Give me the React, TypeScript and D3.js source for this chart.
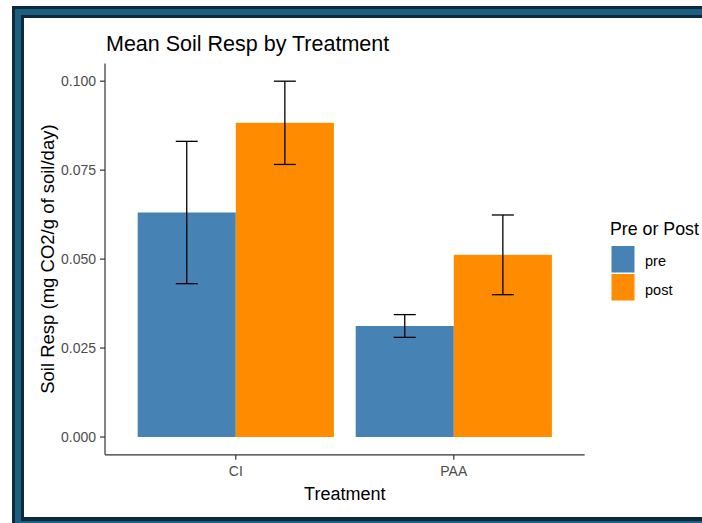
import React from "react";
import * as d3 from "d3";

const treatments = ["CI", "PAA"];
const phases = ["pre", "post"];
const preMeans = [0.0631, 0.0312];
const postMeans = [0.0883, 0.0512];
const preSE = [0.0200, 0.0032];
const postSE = [0.0117, 0.0112];
const yTicks = [0, 0.025, 0.05, 0.075, 0.1];
const colors = ["#4682B4", "#FF8C00"];

const W = 702;
const H = 523;
const plotL = 105;
const plotR = 584.6;
const plotT = 63.4;
const plotB = 454.8;
const FONT = "'Liberation Sans', Arial, sans-serif";

export default function App() {
  const rows = treatments.flatMap((t, i) => [
    { t, phase: "pre", mean: preMeans[i], se: preSE[i] },
    { t, phase: "post", mean: postMeans[i], se: postSE[i] },
  ]);
  const maxV = d3.max(rows, (r) => r.mean + r.se) as number;
  const exp = maxV * 0.05;
  const y = d3.scaleLinear().domain([0 - exp, maxV + exp]).range([plotB, plotT]);
  const x = d3
    .scaleBand<string>()
    .domain(treatments)
    .range([plotL, plotR])
    .paddingInner(0.1)
    .paddingOuter(0.15);
  const xi = d3.scaleBand<string>().domain(phases).range([0, x.bandwidth()]).padding(0);
  const colorScale = d3.scaleOrdinal<string, string>().domain(phases).range(colors);
  const fmt = d3.format(".3f");
  const capHalf = 11;

  const dark = "#0d2a3b";
  const teal = "#1c5f80";

  return (
    <svg
      width={W}
      height={H}
      style={{ position: "absolute", left: 0, top: 0, background: "#fff" }}
      fontFamily={FONT}
    >
      <rect x={0} y={0} width={W} height={H} fill="#ffffff" />
      <rect x={12} y={6} width={800} height={800} fill={dark} />
      <rect x={15} y={9} width={800} height={800} fill={teal} />
      <rect x={21} y={15} width={800} height={506} fill={dark} />
      <rect x={24} y={18} width={800} height={499} fill="#ffffff" />

      {/* title */}
      <text x={106} y={51} fontSize={21.5} fill="#000">
        Mean Soil Resp by Treatment
      </text>

      {/* bars */}
      {rows.map((r, k) => (
        <rect
          key={"b" + k}
          x={(x(r.t) as number) + (xi(r.phase) as number)}
          y={y(r.mean)}
          width={xi.bandwidth()}
          height={y(0) - y(r.mean)}
          fill={colorScale(r.phase)}
        />
      ))}

      {/* error bars */}
      {rows.map((r, k) => {
        const cx = (x(r.t) as number) + (xi(r.phase) as number) + xi.bandwidth() / 2;
        const top = y(r.mean + r.se);
        const bot = y(r.mean - r.se);
        return (
          <g key={"e" + k} stroke="#000" strokeWidth={1.3}>
            <line x1={cx} x2={cx} y1={top} y2={bot} />
            <line x1={cx - capHalf} x2={cx + capHalf} y1={top} y2={top} />
            <line x1={cx - capHalf} x2={cx + capHalf} y1={bot} y2={bot} />
          </g>
        );
      })}

      {/* axes */}
      <line x1={plotL} x2={plotL} y1={plotT} y2={plotB} stroke="#333" strokeWidth={1.2} />
      <line x1={plotL} x2={plotR} y1={plotB} y2={plotB} stroke="#333" strokeWidth={1.2} />
      {yTicks.map((t) => (
        <g key={"yt" + t}>
          <line x1={plotL - 5} x2={plotL} y1={y(t)} y2={y(t)} stroke="#333" strokeWidth={1.2} />
          <text
            x={plotL - 9}
            y={y(t)}
            dy="0.35em"
            textAnchor="end"
            fontSize={14}
            fill="#4d4d4d"
          >
            {fmt(t)}
          </text>
        </g>
      ))}
      {treatments.map((t) => {
        const cx = (x(t) as number) + x.bandwidth() / 2;
        return (
          <g key={"xt" + t}>
            <line x1={cx} x2={cx} y1={plotB} y2={plotB + 5} stroke="#333" strokeWidth={1.2} />
            <text x={cx} y={plotB + 21} textAnchor="middle" fontSize={14} fill="#4d4d4d">
              {t}
            </text>
          </g>
        );
      })}

      {/* axis titles */}
      <text x={(plotL + plotR) / 2} y={500} textAnchor="middle" fontSize={18} fill="#000">
        Treatment
      </text>
      <text
        transform={`translate(54, ${(plotT + plotB) / 2}) rotate(-90)`}
        textAnchor="middle"
        fontSize={18.5}
        fill="#000"
      >
        Soil Resp (mg CO2/g of soil/day)
      </text>

      {/* legend */}
      <text x={610} y={235} fontSize={17.8} fill="#000">
        Pre or Post
      </text>
      {phases.map((p, i) => (
        <g key={"lg" + p}>
          <rect x={611.5} y={246 + i * 28} width={23} height={26.5} fill={colorScale(p)} />
          <text x={645} y={266 + i * 28.5} fontSize={14.5} fill="#000">
            {p}
          </text>
        </g>
      ))}
    </svg>
  );
}
